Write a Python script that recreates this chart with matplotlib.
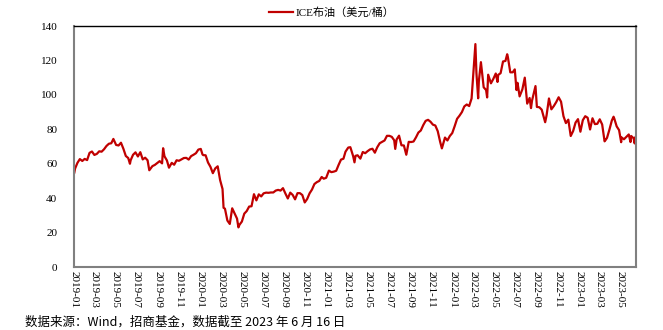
import matplotlib
matplotlib.use("Agg")
import matplotlib.pyplot as plt
import matplotlib.dates as mdates
import pandas as pd

# ICE Brent front-month settlement, USD/bbl (weekly sampling plus notable days)
dates_2019 = ["2019-01-02", "2019-01-04", "2019-01-11", "2019-01-18", "2019-01-25", "2019-02-01",
              "2019-02-08", "2019-02-15", "2019-02-22", "2019-03-01", "2019-03-08", "2019-03-15",
              "2019-03-22", "2019-03-29", "2019-04-05", "2019-04-12", "2019-04-19", "2019-04-25",
              "2019-05-03", "2019-05-10", "2019-05-17", "2019-05-24", "2019-05-31", "2019-06-07",
              "2019-06-12", "2019-06-14", "2019-06-21", "2019-06-28", "2019-07-05", "2019-07-12",
              "2019-07-19", "2019-07-26", "2019-08-02", "2019-08-07", "2019-08-16", "2019-08-23",
              "2019-08-30", "2019-09-06", "2019-09-13", "2019-09-16", "2019-09-20", "2019-09-27",
              "2019-10-03", "2019-10-11", "2019-10-18", "2019-10-25", "2019-11-01", "2019-11-08",
              "2019-11-15", "2019-11-22", "2019-11-29", "2019-12-06", "2019-12-13", "2019-12-20",
              "2019-12-27"]
brent_2019 = [54.9, 57.1, 60.5, 62.7, 61.6, 62.8,
              62.1, 66.3, 67.1, 65.1, 65.7, 67.2,
              67.0, 68.4, 70.3, 71.6, 71.9, 74.4,
              70.9, 70.6, 72.2, 68.7, 64.5, 63.3,
              59.97, 62.0, 65.2, 66.6, 64.2, 66.7,
              62.5, 63.5, 62.0, 56.2, 58.6, 59.3,
              60.4, 61.5, 60.2, 69.0, 64.3, 61.9,
              57.7, 60.5, 59.4, 62.0, 61.7, 62.5,
              63.3, 63.4, 62.4, 64.4, 65.2, 66.1,
              68.2]

dates_2020 = ["2020-01-03", "2020-01-08", "2020-01-10", "2020-01-17", "2020-01-24", "2020-01-31",
              "2020-02-07", "2020-02-14", "2020-02-21", "2020-02-28", "2020-03-06", "2020-03-09",
              "2020-03-13", "2020-03-20", "2020-03-27", "2020-04-03", "2020-04-09", "2020-04-17",
              "2020-04-21", "2020-04-24", "2020-05-01", "2020-05-08", "2020-05-15", "2020-05-22",
              "2020-05-29", "2020-06-05", "2020-06-12", "2020-06-19", "2020-06-26", "2020-07-03",
              "2020-07-10", "2020-07-17", "2020-07-24", "2020-07-31", "2020-08-07", "2020-08-14",
              "2020-08-21", "2020-08-28", "2020-09-04", "2020-09-11", "2020-09-18", "2020-09-25",
              "2020-10-02", "2020-10-09", "2020-10-16", "2020-10-23", "2020-10-30", "2020-11-06",
              "2020-11-13", "2020-11-20", "2020-11-27", "2020-12-04", "2020-12-11", "2020-12-18",
              "2020-12-24", "2020-12-31"]
brent_2020 = [68.6, 65.4, 65.0, 64.9, 60.7, 58.2,
              54.5, 57.3, 58.5, 50.5, 45.3, 34.4,
              33.9, 27.0, 25.0, 34.1, 31.5, 28.1,
              23.0, 24.5, 26.4, 31.0, 32.5, 35.1,
              35.3, 42.3, 38.7, 42.2, 41.0, 42.8,
              43.2, 43.1, 43.3, 43.3, 44.4, 44.8,
              44.4, 45.8, 42.7, 39.8, 43.2, 41.9,
              39.3, 42.9, 42.9, 41.8, 37.5, 39.5,
              42.8, 45.0, 48.2, 49.3, 50.0, 52.3,
              51.3, 51.8]

dates_2021 = ["2021-01-08", "2021-01-15", "2021-01-22", "2021-01-29", "2021-02-05", "2021-02-12",
              "2021-02-19", "2021-02-25", "2021-03-05", "2021-03-11", "2021-03-19", "2021-03-23",
              "2021-03-26", "2021-04-01", "2021-04-09", "2021-04-16", "2021-04-23", "2021-04-30",
              "2021-05-07", "2021-05-14", "2021-05-21", "2021-05-28", "2021-06-04", "2021-06-11",
              "2021-06-18", "2021-06-25", "2021-07-02", "2021-07-09", "2021-07-16", "2021-07-19",
              "2021-07-23", "2021-07-30", "2021-08-06", "2021-08-13", "2021-08-20", "2021-08-27",
              "2021-09-03", "2021-09-10", "2021-09-17", "2021-09-24", "2021-10-01", "2021-10-08",
              "2021-10-15", "2021-10-22", "2021-10-29", "2021-11-05", "2021-11-12", "2021-11-19",
              "2021-11-26", "2021-12-01", "2021-12-10", "2021-12-17", "2021-12-24", "2021-12-31"]
brent_2021 = [56.0, 55.1, 55.4, 55.9, 59.3, 62.4,
              62.9, 67.0, 69.4, 69.6, 64.5, 60.8,
              64.6, 64.9, 62.95, 66.8, 66.1, 67.3,
              68.3, 68.7, 66.4, 69.6, 71.9, 72.7,
              73.5, 76.2, 76.2, 75.6, 73.6, 68.6,
              74.1, 76.3, 70.7, 70.6, 65.2, 72.7,
              72.6, 72.9, 75.3, 78.1, 79.3, 82.4,
              84.9, 85.5, 84.4, 82.7, 82.2, 78.9,
              72.7, 68.9, 75.2, 73.5, 76.1, 77.8]

dates_2022 = ["2022-01-07", "2022-01-14", "2022-01-21", "2022-01-28", "2022-02-04", "2022-02-11",
              "2022-02-18", "2022-02-25", "2022-03-04", "2022-03-08", "2022-03-11", "2022-03-16",
              "2022-03-18", "2022-03-24", "2022-04-01", "2022-04-08", "2022-04-11", "2022-04-14",
              "2022-04-22", "2022-04-29", "2022-05-06", "2022-05-11", "2022-05-13", "2022-05-20",
              "2022-05-27", "2022-06-03", "2022-06-08", "2022-06-10", "2022-06-17", "2022-06-24",
              "2022-06-30", "2022-07-05", "2022-07-08", "2022-07-14", "2022-07-22", "2022-07-29",
              "2022-08-05", "2022-08-12", "2022-08-16", "2022-08-19", "2022-08-29", "2022-09-02",
              "2022-09-09", "2022-09-16", "2022-09-26", "2022-09-30", "2022-10-07", "2022-10-14",
              "2022-10-21", "2022-10-28", "2022-11-04", "2022-11-11", "2022-11-18", "2022-11-25",
              "2022-12-02", "2022-12-09", "2022-12-16", "2022-12-23", "2022-12-30"]
brent_2022 = [81.8, 86.1, 87.9, 90.0, 93.3, 94.4,
              93.5, 97.9, 118.1, 129.5, 112.7, 98.0,
              107.9, 119.0, 104.4, 102.8, 98.5, 111.7,
              106.7, 109.3, 112.4, 107.5, 111.6, 112.6,
              119.4, 119.7, 123.6, 122.0, 113.1, 113.1,
              114.8, 102.8, 107.0, 99.1, 103.2, 110.0,
              94.9, 98.2, 92.3, 96.7, 105.1, 93.0,
              92.8, 91.4, 84.1, 88.0, 97.9, 91.6,
              93.5, 95.8, 98.6, 96.0, 87.6, 83.6,
              85.6, 76.1, 79.0, 83.9, 85.9]

dates_2023 = ["2023-01-06", "2023-01-13", "2023-01-20", "2023-01-27", "2023-02-03", "2023-02-10",
              "2023-02-17", "2023-02-24", "2023-03-03", "2023-03-10", "2023-03-17", "2023-03-20",
              "2023-03-24", "2023-03-31", "2023-04-07", "2023-04-12", "2023-04-14", "2023-04-21",
              "2023-04-28", "2023-05-04", "2023-05-05", "2023-05-12", "2023-05-19", "2023-05-26",
              "2023-05-31", "2023-06-02", "2023-06-09", "2023-06-12", "2023-06-15", "2023-06-16"]
brent_2023 = [78.6, 85.3, 87.6, 86.7, 79.9, 86.4,
              83.0, 83.2, 85.8, 82.8, 73.0, 73.8,
              75.0, 79.8, 85.1, 87.3, 86.3, 81.7,
              79.5, 72.5, 75.3, 74.2, 75.6, 77.0,
              72.6, 76.1, 74.8, 71.8, 75.7, 73.8]

series_label = "ICE布油（美元/桶）"
source_note = "数据来源：Wind，招商基金，数据截至 2023 年 6 月 16 日"
y_ticks = [0, 20, 40, 60, 80, 100, 120, 140]

dates = pd.to_datetime(dates_2019 + dates_2020 + dates_2021 + dates_2022 + dates_2023)
brent = brent_2019 + brent_2020 + brent_2021 + brent_2022 + brent_2023

plt.rcParams['font.family'] = ['Liberation Serif', 'Noto Sans CJK SC', 'DejaVu Sans']

fig = plt.figure(figsize=(6.63, 3.30), dpi=100)
ax = fig.add_axes([0.1116, 0.1909, 0.8477, 0.7303])

ax.plot(dates, brent, color="#C00000", linewidth=1.6, label=series_label)

# start the date axis on the first of January so the first month tick shows
ax.set_xlim(dates[0].to_period("M").to_timestamp(), dates[-1])
ax.set_ylim(0, 140)
ax.set_yticks(y_ticks)
ax.xaxis.set_major_locator(mdates.MonthLocator(bymonth=[1, 3, 5, 7, 9, 11]))
ax.xaxis.set_major_formatter(mdates.DateFormatter("%Y-%m"))
for lbl in ax.get_xticklabels():
    lbl.set_rotation(-90)
    lbl.set_ha("center")
    lbl.set_va("top")
ax.tick_params(axis="both", length=0, labelsize=8, colors="black")
ax.tick_params(axis="x", pad=3)
ax.tick_params(axis="y", pad=12)

for side in ["left", "right", "bottom"]:
    ax.spines[side].set_color("#808080")
    ax.spines[side].set_linewidth(1.5)
ax.spines["top"].set_color("black")
ax.spines["top"].set_linewidth(1.0)

fig.legend(loc="center", bbox_to_anchor=(0.5, 0.963), frameon=False,
           handlelength=2.2, handletextpad=0.2,
           prop={"family": ["Liberation Serif", "Noto Sans CJK SC"], "size": 8})

fig.text(0.038, 0.042, source_note, ha="left", va="top", fontsize=9,
         family=["Noto Sans CJK SC", "DejaVu Sans"])

fig.savefig("out.png", dpi=100)
